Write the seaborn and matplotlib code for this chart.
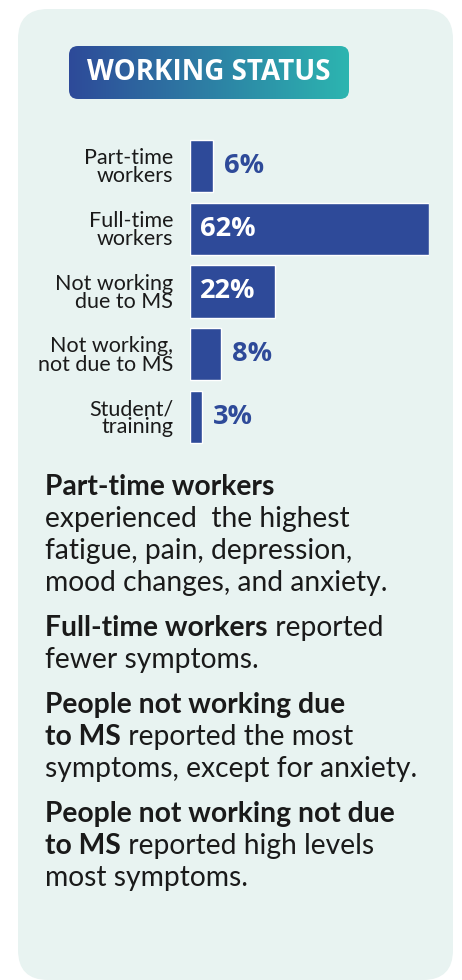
import numpy as np
import matplotlib
matplotlib.use("Agg")
import matplotlib.pyplot as plt
from matplotlib.patches import FancyBboxPatch
import seaborn as sns

# ---- data ----
categories = ["Part-time\nworkers", "Full-time\nworkers", "Not working\ndue to MS",
              "Not working,\nnot due to MS", "Student/\ntraining"]
values = [6, 62, 22, 8, 3]
title = "WORKING STATUS"
paragraphs = [
    [[("Part-time workers", True)],
     [("experienced  the highest", False)],
     [("fatigue, pain, depression,", False)],
     [("mood changes, and anxiety.", False)]],
    [[("Full-time workers", True), (" reported", False)],
     [("fewer symptoms.", False)]],
    [[("People not working due", True)],
     [("to MS", True), (" reported the most", False)],
     [("symptoms, except for anxiety.", False)]],
    [[("People not working not due", True)],
     [("to MS", True), (" reported high levels", False)],
     [("most symptoms.", False)]],
]

# ---- style ----
W, H = 462, 980
DPI = 100
BAR = "#2E4A99"
CARD = "#E8F3F1"
TXT = "#1A1A1A"
BODY_FONT = ["Lato", "DejaVu Sans"]
HEAD_FONT = ["Open Sans", "DejaVu Sans"]

sns.set_theme(style="white")
plt.rcParams["font.family"] = BODY_FONT

fig = plt.figure(figsize=(W / DPI, H / DPI), dpi=DPI)
fig.patch.set_facecolor("white")

# background axes in pixel coordinates
bg = fig.add_axes([0, 0, 1, 1])
bg.set_xlim(0, W)
bg.set_ylim(H, 0)
bg.axis("off")

card = FancyBboxPatch((18, 9), 435, 971, boxstyle="round,pad=0,rounding_size=30",
                      facecolor=CARD, edgecolor="none", transform=bg.transData)
bg.add_patch(card)

# gradient title badge
grad = np.linspace(0, 1, 256).reshape(1, -1)
cmap = matplotlib.colors.LinearSegmentedColormap.from_list("g", ["#2E4A99", "#2CB5B0"])
im = bg.imshow(grad, extent=(69, 349, 99, 46), cmap=cmap, aspect="auto", zorder=2)
badge = FancyBboxPatch((69, 46), 280, 53, boxstyle="round,pad=0,rounding_size=9",
                       facecolor="none", edgecolor="none", transform=bg.transData)
bg.add_patch(badge)
im.set_clip_path(badge)
bg.set_xlim(0, W)
bg.set_ylim(H, 0)
bg.text(209, 73, title, color="white", fontsize=20, fontweight="bold",
        family=HEAD_FONT, ha="center", va="center", zorder=3)

# ---- bar chart ----
x0, x1 = 190, 429
ytop, ybot = 134.6, 448.4
ax = fig.add_axes([x0 / W, 1 - ybot / H, (x1 - x0) / W, (ybot - ytop) / H])
ax.patch.set_alpha(0)
sns.barplot(x=values, y=categories, orient="h", color=BAR, saturation=1,
            width=0.83, ax=ax)
ax.set_xlim(0, max(values))
ax.set_ylim(len(values) - 0.5, -0.5)
sns.despine(ax=ax, left=True, bottom=True)
ax.set_xticks([])
ax.set_xlabel("")
ax.set_ylabel("")
ax.tick_params(axis="y", length=0, pad=12)
for lab in ax.get_yticklabels():
    lab.set_fontsize(15.5)
    lab.set_color(TXT)
    lab.set_linespacing(0.9)
    lab.set_family(BODY_FONT)

for i, v in enumerate(values):
    if v > 15:
        ax.annotate(f"{v}%", xy=(0, i), xytext=(7, 0), textcoords="offset points",
                    ha="left", va="center", color="white", fontsize=19.5,
                    fontweight="bold", family=HEAD_FONT)
    else:
        ax.annotate(f"{v}%", xy=(v, i), xytext=(8, 0), textcoords="offset points",
                    ha="left", va="center", color=BAR, fontsize=19.5,
                    fontweight="bold", family=HEAD_FONT)

# ---- body text ----
y = 495
line_step = 32
para_gap = 13
for p in paragraphs:
    for line in p:
        prev = None
        for seg, bold in line:
            w = "bold" if bold else "normal"
            if prev is None:
                prev = bg.text(45, y, seg, fontsize=20.3, fontweight=w, color=TXT,
                               ha="left", va="baseline", family=BODY_FONT, zorder=3)
            else:
                prev = bg.annotate(seg, xy=(1, 0), xycoords=prev, fontsize=20.3,
                                   fontweight=w, color=TXT, ha="left", va="bottom",
                                   family=BODY_FONT, zorder=3)
        y += line_step
    y += para_gap

fig.savefig("out.png", dpi=DPI, facecolor="white")
